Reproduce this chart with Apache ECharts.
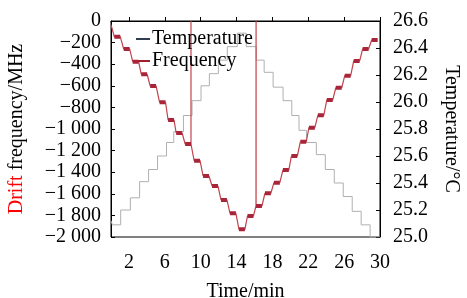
<!DOCTYPE html>
<html>
<head>
<meta charset="utf-8">
<script src="https://cdn.jsdelivr.net/npm/echarts@6/dist/echarts.min.js"></script>
<style>
  html, body { margin: 0; padding: 0; background: #fff; }
  #chart { width: 467px; height: 298px; }
</style>
</head>
<body>
<div id="chart"></div>
<script>
// frequency: centre time of each flat step (min) and its drift (MHz)
const freqTimes = [0.7, 1.75, 2.75, 3.7, 4.7, 5.75, 6.7, 7.6, 8.6, 9.6, 10.6, 11.6, 12.6, 13.6, 14.6,
  15.55, 16.5, 17.5, 18.5, 19.5, 20.45, 21.45, 22.4, 23.4, 24.4, 25.4, 26.4, 27.4, 28.4, 29.4]
const freqValues = [-145, -259, -377, -493, -602, -753, -917, -1037, -1139, -1293, -1435, -1528, -1657, -1781, -1929,
  -1806, -1713, -1595, -1497, -1380, -1250, -1118, -988, -873, -731, -618, -506, -370, -259, -176]
const freqStart = -35
// two glitches where the reading jumps up to the top
const spikeTimes = [8.92, 16.18]
const spikeValues = [0, 0]

// temperature staircase: time each level starts (min) and level (°C)
const tempTimes = [0, 0.15, 1.08, 2.16, 3.19, 4.19, 5.19, 6.19, 7.0, 8.08, 9.04, 10.04, 10.97, 11.97, 12.97, 14.08,
  15.08, 16.19, 17.08, 18.08, 19.19, 20.16, 20.97, 21.8, 22.9, 23.9, 24.9, 25.9, 26.9, 27.9, 28.9, 30]
const tempValues = [25.12, 25.09, 25.2, 25.29, 25.41, 25.5, 25.6, 25.7, 25.78, 25.9, 26.01, 26.12, 26.21, 26.31, 26.41, 26.51,
  26.41, 26.31, 26.22, 26.11, 26.01, 25.9, 25.79, 25.7, 25.61, 25.5, 25.4, 25.3, 25.19, 25.09, 25.0, 25.0]

const xTicks = [2, 6, 10, 14, 18, 22, 26, 30]

const FONT = '"Liberation Serif", "DejaVu Serif", serif'
const halfW = 0.33

// thin connecting line through every step, plus the thick flat parts
let freqLine = [[0, freqStart]]
const plateaus = []
freqTimes.forEach((t, i) => {
  freqLine.push([t - halfW, freqValues[i]], [t + halfW, freqValues[i]])
  plateaus.push([t - halfW, freqValues[i]], [t + halfW, freqValues[i]], [t + halfW, null])
})
spikeTimes.forEach((s, k) => {
  let idx = 0
  for (let j = 0; j < freqLine.length; j++) if (freqLine[j][0] <= s) idx = j
  const base = freqLine[idx][1]
  freqLine.splice(idx + 1, 0, [s, base], [s, spikeValues[k]], [s, base])
})

const tempLine = tempTimes.map((t, i) => [t, tempValues[i]])

function fmtFreq(v) {
  if (v === 0) return '0'
  const a = Math.abs(v)
  const s = a >= 1000 ? Math.floor(a / 1000) + ' ' + String(a % 1000).padStart(3, '0') : String(a)
  return '\u2212' + s
}

const chart = echarts.init(document.getElementById('chart'))
chart.setOption({
  animation: false,
  grid: {
    left: 111, right: 87, top: 21, bottom: 61,
    containLabel: false, outerBoundsMode: 'none',
    show: true, borderColor: '#000', borderWidth: 1
  },
  legend: {
    orient: 'vertical',
    left: 131, top: 24,
    itemWidth: 14, itemHeight: 2, itemGap: 2,
    icon: 'rect',
    textStyle: { fontFamily: FONT, fontSize: 20, color: '#000', lineHeight: 16, padding: [0, 0, 0, -3] },
    data: [
      { name: 'Temperature', itemStyle: { color: '#2f3f4f' } },
      { name: 'Frequency', itemStyle: { color: '#9e1f2a' } }
    ]
  },
  xAxis: {
    type: 'value', min: 0, max: 30,
    name: 'Time/min', nameLocation: 'middle', nameGap: 45,
    nameTextStyle: { fontFamily: FONT, fontSize: 20, color: '#000' },
    axisLine: { lineStyle: { color: '#000', width: 1 } },
    axisTick: { inside: true, length: 4, customValues: xTicks, lineStyle: { color: '#000' } },
    axisLabel: { customValues: xTicks, margin: 16, fontFamily: FONT, fontSize: 20, color: '#000' },
    splitLine: { show: false }
  },
  yAxis: [
    {
      type: 'value', min: -2000, max: 0, interval: 200,
      name: '{r|Drift} frequency/MHz', nameLocation: 'middle', nameGap: 84, nameRotate: 90,
      nameTextStyle: {
        fontFamily: FONT, fontSize: 20, color: '#000',
        rich: { r: { fontFamily: FONT, fontSize: 20, color: '#ff0000' } }
      },
      axisLine: { show: true, lineStyle: { color: '#000' } },
      axisTick: { show: true, inside: true, length: 4, lineStyle: { color: '#000' } },
      axisLabel: { margin: 10, fontFamily: FONT, fontSize: 20, color: '#000', formatter: fmtFreq },
      splitLine: { show: false }
    },
    {
      type: 'value', min: 25, max: 26.6, interval: 0.2, position: 'right',
      name: 'Temperature/°C', nameLocation: 'middle', nameGap: 61, nameRotate: -90,
      nameTextStyle: { fontFamily: FONT, fontSize: 20, color: '#000' },
      axisLine: { show: true, lineStyle: { color: '#000' } },
      axisTick: { show: true, inside: true, length: 4, lineStyle: { color: '#000' } },
      axisLabel: { margin: 13, fontFamily: FONT, fontSize: 20, color: '#000', formatter: v => v.toFixed(1) },
      splitLine: { show: false }
    }
  ],
  series: [
    {
      name: 'Temperature',
      type: 'line',
      yAxisIndex: 1,
      step: 'end',
      data: tempLine,
      showSymbol: false,
      lineStyle: { color: '#b0b0b0', width: 1 },
      itemStyle: { color: '#2f3f4f' },
      z: 2
    },
    {
      name: 'Frequency',
      type: 'line',
      data: freqLine,
      showSymbol: false,
      lineStyle: { color: '#c0444c', width: 1.2 },
      itemStyle: { color: '#9e1f2a' },
      z: 3
    },
    {
      name: 'steps',
      type: 'line',
      data: plateaus,
      showSymbol: false,
      connectNulls: false,
      lineStyle: { color: '#a8253a', width: 4, cap: 'butt' },
      z: 4
    }
  ]
})
</script>
</body>
</html>
